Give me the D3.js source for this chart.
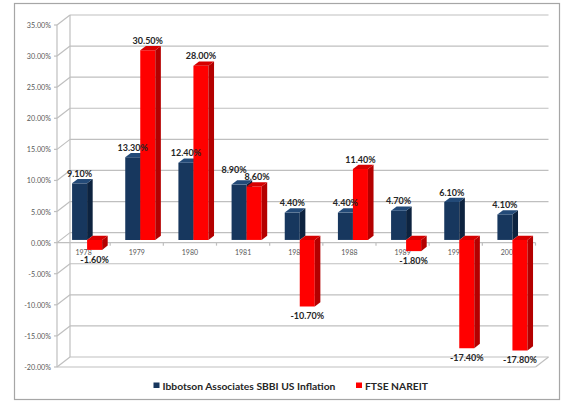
<!DOCTYPE html>
<html><head><meta charset="utf-8">
<script src="https://cdn.jsdelivr.net/npm/d3@7/dist/d3.min.js"></script>
<style>
html,body{margin:0;padding:0;background:#fff;}
svg{display:block;}
</style></head>
<body>
<svg id="chart" width="564" height="418"></svg>
<script>
const categories = ["1978","1979","1980","1981","1987","1988","1989","1990","2007"];
const seriesNames = ["Ibbotson Associates SBBI US Inflation","FTSE NAREIT"];
const inflation = [9.10, 13.30, 12.40, 8.90, 4.40, 4.40, 4.70, 6.10, 4.10];
const nareit = [-1.60, 30.50, 28.00, 8.60, -10.70, 11.40, -1.80, -17.40, -17.80];
const yTicks = [35,30,25,20,15,10,5,0,-5,-10,-15,-20];

const colors = [
  {front:"#17375E", side:"#0D233F", top:"#234A78"},
  {front:"#FF0000", side:"#B40000", top:"#D60000"}
];
const values = [inflation, nareit];

const svg = d3.select("#chart");
const font = "Lato, 'Open Sans', sans-serif";

// outer border
svg.append("rect").attr("x",14.5).attr("y",3.5).attr("width",545).attr("height",396)
  .attr("fill","#fff").attr("stroke","#A6A6A6").attr("stroke-width",1.2);

const left = 57, right = 535.5;
const DX = 13, DY = -10; // full depth offset
const x0 = d3.scaleBand().domain(categories).range([left, right]);
const x1 = d3.scaleBand().domain(seriesNames).range([0, x0.bandwidth()]).paddingOuter(0.77);
const y = d3.scaleLinear().domain([-20, 35]).range([367, 25]);
const P = (x, yy, d) => [x + DX*d, yy + DY*d];
const grid = "#BFBFBF";

const g = svg.append("g");
// grid lines: side wall diagonal + back wall
yTicks.forEach(t => {
  const yy = y(t);
  g.append("line").attr("x1",left-3).attr("y1",yy).attr("x2",left).attr("y2",yy).attr("stroke",grid).attr("stroke-width",1.2);
  g.append("line").attr("x1",left).attr("y1",yy).attr("x2",left+DX).attr("y2",yy+DY).attr("stroke",grid).attr("stroke-width",1.2);
  g.append("line").attr("x1",left+DX).attr("y1",yy+DY).attr("x2",right+DX).attr("y2",yy+DY).attr("stroke",grid).attr("stroke-width",1.2);
});
// vertical wall edges
g.append("line").attr("x1",left).attr("y1",y(35)).attr("x2",left).attr("y2",y(-20)).attr("stroke",grid).attr("stroke-width",1.2);
g.append("line").attr("x1",left+DX).attr("y1",y(35)+DY).attr("x2",left+DX).attr("y2",y(-20)+DY).attr("stroke",grid).attr("stroke-width",1.2);
// floor front + right edge
g.append("line").attr("x1",left).attr("y1",y(-20)).attr("x2",right).attr("y2",y(-20)).attr("stroke",grid).attr("stroke-width",1.2);
g.append("line").attr("x1",right).attr("y1",y(-20)).attr("x2",right+DX).attr("y2",y(-20)+DY).attr("stroke",grid).attr("stroke-width",1.2);
// zero front line + category ticks
g.append("line").attr("x1",left).attr("y1",y(0)).attr("x2",right).attr("y2",y(0)).attr("stroke",grid).attr("stroke-width",1.2);
categories.forEach((c,i) => {
  const xx = x0(c) + x0.bandwidth();
  g.append("line").attr("x1",xx).attr("y1",y(0)).attr("x2",xx).attr("y2",y(0)+3).attr("stroke",grid).attr("stroke-width",1.2);
});

// y tick labels
yTicks.forEach(t => {
  g.append("text").attr("x",left-6).attr("y",y(t)+3).attr("text-anchor","end")
    .attr("font-family",font).attr("font-size",7.2).attr("fill","#595959")
    .text(t.toFixed(2)+"%");
});
// category labels
categories.forEach(c => {
  g.append("text").attr("x",x0(c)+x0.bandwidth()/2).attr("y",254.5).attr("text-anchor","middle")
    .attr("font-family",font).attr("font-size",7).attr("fill","#595959").text(c);
});

// bars
const d0 = 0.27, d1 = 0.70;
const poly = pts => pts.map(p => p.join(",")).join(" ");
const labels = [];
categories.forEach((c, i) => {
  const pair = [];
  seriesNames.forEach((s, k) => {
    const v = values[k][i];
    const xa = x0(c) + x1(s), xb = xa + x1.bandwidth();
    const yt = y(Math.max(v,0)), yb = y(Math.min(v,0));
    const col = colors[k];
    g.append("polygon").attr("points", poly([P(xa,yt,d0),P(xb,yt,d0),P(xb,yb,d0),P(xa,yb,d0)])).attr("fill",col.front);
    g.append("polygon").attr("points", poly([P(xb,yt,d0),P(xb,yt,d1),P(xb,yb,d1),P(xb,yb,d0)])).attr("fill",col.side);
    g.append("polygon").attr("points", poly([P(xa,yt,d0),P(xb,yt,d0),P(xb,yt,d1),P(xa,yt,d1)])).attr("fill",col.top);
    const cx = P((xa+xb)/2, 0, d0)[0];
    const ly = v >= 0 ? P(0, yt, d0)[1] - 6.5 : P(0, yb, d0)[1] + 12.7;
    pair.push({x:cx, y:ly, t:v.toFixed(2)+"%", pos: v >= 0});
  });
  // avoid collision of two positive labels at similar heights
  if (pair[0].pos && pair[1].pos && Math.abs(pair[0].y - pair[1].y) < 9) {
    pair[0].x -= 5; pair[0].y = Math.min(pair[0].y, pair[1].y) - 5.5;
    pair[1].x += 3;
  }
  labels.push(...pair);
});
labels.forEach(l => {
  g.append("text").attr("x",l.x).attr("y",l.y).attr("text-anchor","middle")
    .attr("font-family",font).attr("font-weight","bold").attr("font-size",9).attr("fill","#262626").text(l.t);
});

// legend
const leg = [{x:153.5, name:seriesNames[0], c:colors[0].front},{x:356, name:seriesNames[1], c:colors[1].front}];
leg.forEach(L => {
  g.append("rect").attr("x",L.x).attr("y",382.5).attr("width",6).attr("height",5.5).attr("fill",L.c);
  g.append("text").attr("x",L.x+9).attr("y",389.5).attr("font-family",font).attr("font-weight","bold")
    .attr("font-size",10.3).attr("fill","#262626").text(L.name);
});
</script>
</body></html>
